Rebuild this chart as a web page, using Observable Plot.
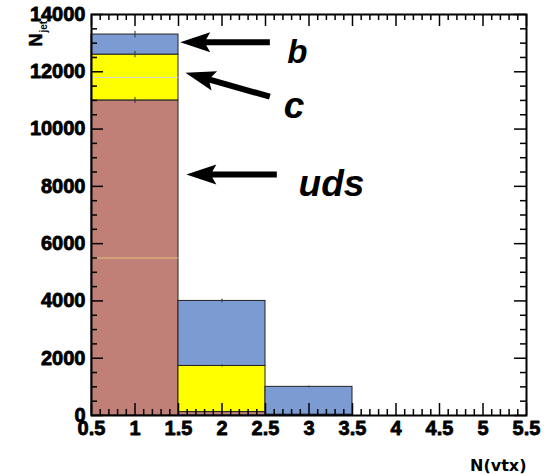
<!DOCTYPE html>
<html>
<head>
<meta charset="utf-8">
<script src="https://cdn.jsdelivr.net/npm/d3@7"></script>
<script src="https://cdn.jsdelivr.net/npm/@observablehq/plot@0.6"></script>
<style>
  html, body { margin: 0; padding: 0; background: #fff; }
  #chart svg { display: block; }
  #chart svg text { font-weight: bold; }
</style>
</head>
<body>
<div id="chart"></div>
<script>
// N(vtx) histogram bins
const binLow = [0.5, 1.5, 2.5];
const binHigh = [1.5, 2.5, 3.5];

// jet counts per flavour, stacked bottom-up: uds, c, b
const flavors = ["uds", "c", "b"];
const udsJets = [11000, 120, 15];
const cJets = [1600, 1610, 15];
const bJets = [700, 2270, 970];
const flavorColors = ["#c08078", "#ffff00", "#7b9bd2"];

// axis tick labels
const xTickLabels = [0.5, 1, 1.5, 2, 2.5, 3, 3.5, 4, 4.5, 5, 5.5];
const yTickLabels = [0, 2000, 4000, 6000, 8000, 10000, 12000, 14000];

// layout
const W = 550, H = 474;
const mL = 91, mR = 24, mT = 14, mB = 59;
const xDomain = [0.5, 5.5], yDomain = [0, 14000];
const plotW = W - mL - mR, plotH = H - mT - mB;
const kx = plotW / (xDomain[1] - xDomain[0]);
const ky = plotH / (yDomain[1] - yDomain[0]);

// stacked segments
const series = [udsJets, cJets, bJets];
const segments = [];
binLow.forEach((lo, i) => {
  let base = 0;
  flavors.forEach((f, j) => {
    const n = series[j][i];
    segments.push({lo, hi: binHigh[i], flavor: f, y1: base, y2: base + n, mid: (binLow[i] + binHigh[i]) / 2});
    base += n;
  });
});

// minor ticks
const xMinor = d3.range(5, 56).map(d => d / 10).filter(d => Math.abs(d * 2 - Math.round(d * 2)) > 1e-6);
const yMinor = d3.range(0, 14001, 500).filter(d => d % 2000 !== 0);

// flavour arrows (tip, tail) and labels in data coordinates
const arrowTips = [[1.52, 13030], [1.58, 11970], [1.59, 8410]];
const arrowTails = [[2.55, 13030], [2.55, 11130], [2.63, 8410]];
const labelText = ["b", "c", "uds"];
const labelPos = [[2.75, 12290], [2.71, 10370], [2.88, 7650]];
const labelSize = [33, 37, 37];

function arrowSymbol(tip, tail) {
  const vx = (tail[0] - tip[0]) * kx, vy = -(tail[1] - tip[1]) * ky;
  const len = Math.hypot(vx, vy), ux = vx / len, uy = vy / len, nx = -uy, ny = ux;
  const p = (a, b) => [a * ux + b * nx, a * uy + b * ny];
  const pts = [p(0, 0), p(30, 10), p(26, 3), p(len, 3), p(len, -3), p(26, -3), p(30, -10)];
  return {
    draw(ctx) {
      ctx.moveTo(...pts[0]);
      for (let k = 1; k < pts.length; ++k) ctx.lineTo(...pts[k]);
      ctx.closePath();
    }
  };
}

const tickFont = "Liberation Sans, Arial, Helvetica, sans-serif";
const labelStyle = {fontSize: 20, fontWeight: "bold", fontFamily: tickFont, fill: "black", stroke: "black", strokeWidth: 0.8};

const marks = [
  // stacked bars
  Plot.rect(segments, {x1: "lo", x2: "hi", y1: "y1", y2: "y2", fill: "flavor", stroke: "#222", strokeWidth: 1}),
  // thin bin-centre lines in the first bin
  Plot.ruleY([udsJets[0] / 2], {x1: binLow[0], x2: binHigh[0], stroke: "#e2c77a", strokeWidth: 1}),
  Plot.ruleY([udsJets[0] + cJets[0] / 2], {x1: binLow[0], x2: binHigh[0], stroke: "#d8d8d8", strokeWidth: 1}),
  // statistical errors on the stack tops
  Plot.ruleX(segments, {x: "mid", y1: d => d.y2 - Math.sqrt(d.y2), y2: d => d.y2 + Math.sqrt(d.y2), stroke: "#333", strokeWidth: 1}),
  // inward ticks on all four sides
  Plot.tickX(xTickLabels, {x: d => d, insetTop: plotH - 12, strokeWidth: 1.5, stroke: "black"}),
  Plot.tickX(xMinor, {x: d => d, insetTop: plotH - 6, strokeWidth: 1.5, stroke: "black"}),
  Plot.tickX(xTickLabels, {x: d => d, insetBottom: plotH - 12, strokeWidth: 1.5, stroke: "black"}),
  Plot.tickX(xMinor, {x: d => d, insetBottom: plotH - 6, strokeWidth: 1.5, stroke: "black"}),
  Plot.tickY(yTickLabels, {y: d => d, insetRight: plotW - 12, strokeWidth: 1.5, stroke: "black"}),
  Plot.tickY(yMinor, {y: d => d, insetRight: plotW - 6, strokeWidth: 1.5, stroke: "black"}),
  Plot.tickY(yTickLabels, {y: d => d, insetLeft: plotW - 12, strokeWidth: 1.5, stroke: "black"}),
  Plot.tickY(yMinor, {y: d => d, insetLeft: plotW - 6, strokeWidth: 1.5, stroke: "black"}),
  Plot.frame({stroke: "black", strokeWidth: 2}),
  // tick labels
  Plot.text(xTickLabels, {x: d => d, frameAnchor: "bottom", text: d => String(d), lineAnchor: "top", dy: 5, ...labelStyle}),
  Plot.text(yTickLabels, {y: d => d, frameAnchor: "left", text: d => String(d), textAnchor: "end", dx: -6, ...labelStyle}),
  // axis titles
  Plot.text(["N(vtx)"], {frameAnchor: "bottom-right", text: d => d, textAnchor: "end", lineAnchor: "bottom",
    dy: 55, fontSize: 16, fontWeight: "bold", fontFamily: "DejaVu Sans, sans-serif", fill: "black"}),
  Plot.text(["N"], {frameAnchor: "top-left", text: d => d, rotate: -90, textAnchor: "end", lineAnchor: "bottom",
    dx: 41 - mL, dy: 33 - mT, fontSize: 18, fontWeight: "bold", fontFamily: tickFont, fill: "black", stroke: "black", strokeWidth: 0.5}),
  Plot.text(["jet"], {frameAnchor: "top-left", text: d => d, rotate: -90, textAnchor: "start", lineAnchor: "bottom",
    dx: 46 - mL, dy: 32 - mT, fontSize: 10, fontWeight: "bold", fontFamily: tickFont, fill: "black"}),
];

// arrows pointing at the flavour bands, with their labels
arrowTips.forEach((tip, i) => {
  marks.push(Plot.dot([tip], {x: d => d[0], y: d => d[1], r: 10, symbol: arrowSymbol(tip, arrowTails[i]), fill: "black", stroke: "none"}));
  marks.push(Plot.text([labelPos[i]], {x: d => d[0], y: d => d[1], text: () => labelText[i], textAnchor: "start", lineAnchor: "bottom",
    fontSize: labelSize[i], fontWeight: "bold", fontStyle: "italic", fontFamily: tickFont, fill: "black"}));
});

const chart = Plot.plot({
  width: W,
  height: H,
  marginLeft: mL,
  marginRight: mR,
  marginTop: mT,
  marginBottom: mB,
  style: {fontFamily: tickFont, fontWeight: "bold", fontSize: "20px", color: "black", background: "white"},
  x: {domain: xDomain, axis: null},
  y: {domain: yDomain, axis: null},
  color: {domain: flavors, range: flavorColors},
  marks
});
document.getElementById("chart").appendChild(chart);
</script>
</body>
</html>
